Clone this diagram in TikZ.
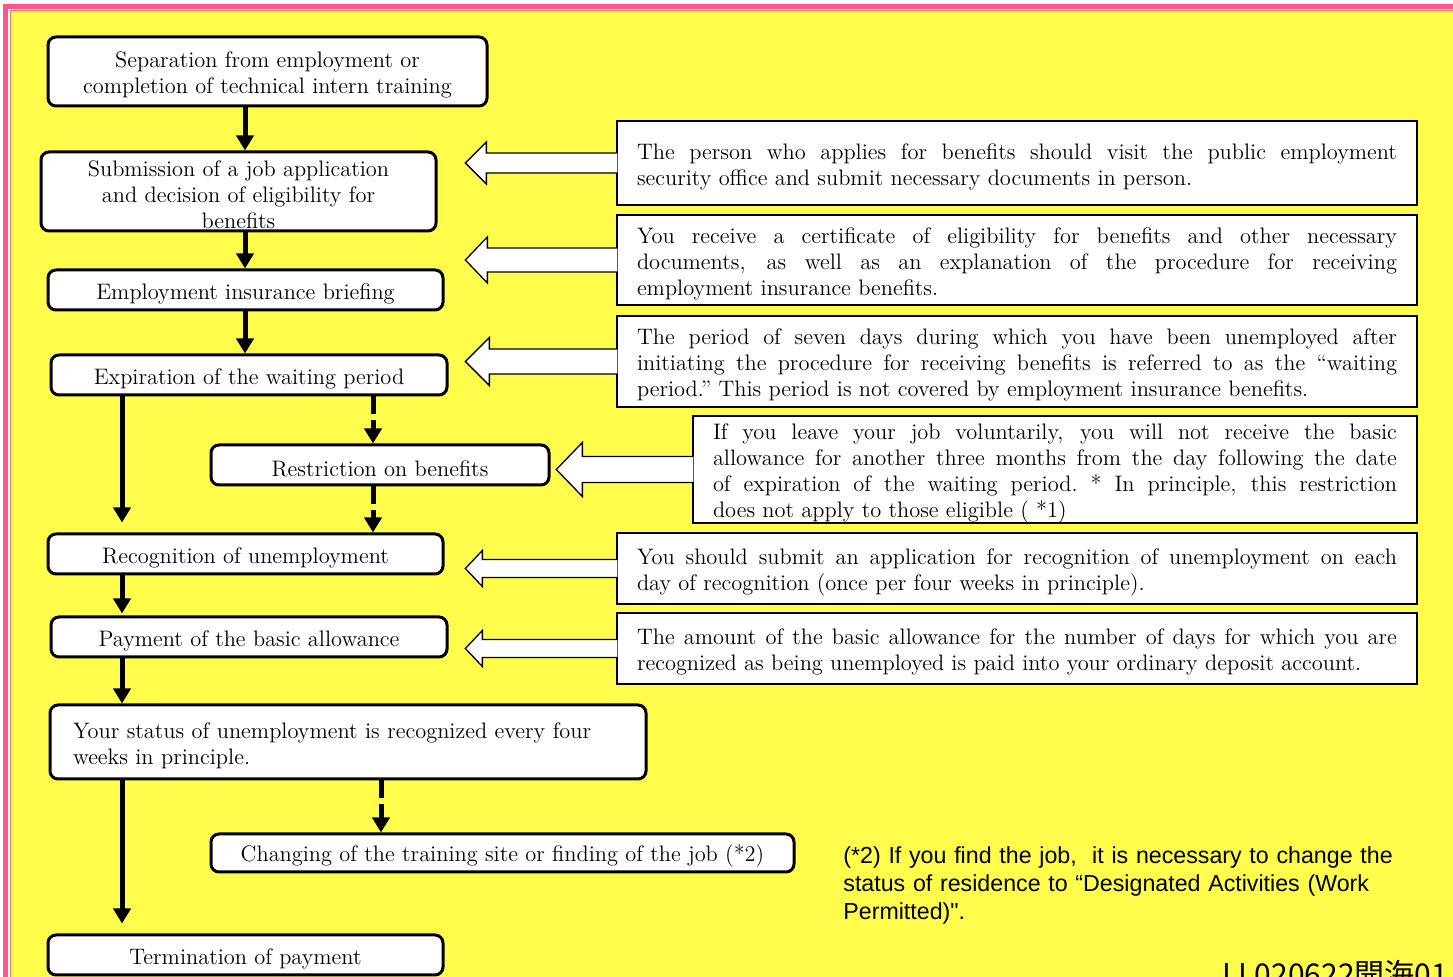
\documentclass[tikz,border=0pt]{standalone}
\usepackage{fontspec}
\newfontfamily\sansf{Liberation Sans}
\newfontfamily\cjkf{Noto Sans CJK JP}
\usetikzlibrary{arrows.meta,calc}
\definecolor{bgyel}{RGB}{255,252,75}
\definecolor{pinkb}{RGB}{255,85,140}
\definecolor{innerl}{RGB}{255,120,110}
\newcommand\tstrut{\rule{0pt}{11.6pt}}
\newcommand\hollowarr[5]{%
  \path[hollow] ($(#1.west)+(1,-#4)$) -- ++(-#2-1,0) -- ++(0,#4-#5) -- ++(-#3,#5) -- ++(#3,#5) -- ++(0,#4-#5) -- ++(#2+1,0);}
\begin{document}
\begin{tikzpicture}[x=0.5pt,y=-0.5pt,
  serif/.style={font=\fontsize{11.2}{13}\selectfont},
  lbox/.style={draw=black, line width=1.5pt, rounded corners=4pt, fill=white, inner xsep=4pt, inner ysep=0pt, align=center, serif},
  rbox/.style={draw=black, line width=0.65pt, fill=white, inner xsep=10pt, inner ysep=0pt, text width=380pt, align=justify, serif},
  hollow/.style={draw=black, line width=0.65pt, fill=white, line join=miter},
  thk/.style={line width=2.5pt, -{Triangle[width=8.5pt,length=7.5pt]}},
  dsh/.style={thk, dash pattern=on 9pt off 3pt}]
\useasboundingbox (0,0) rectangle (1453,977);
\clip (0,0) rectangle (1453,977);
% background
\fill[white] (0,0) rectangle (1453,977);
\fill[bgyel] (11,11) rectangle (1500,1100);
\draw[pinkb, line width=2.2pt] (5.7,6.7) rectangle (1500,1100);
\draw[innerl, line width=0.6pt] (10.3,10.8) rectangle (1500,1100);

% left flow boxes
\node[lbox, minimum width=219.5pt, minimum height=34.5pt] (b1) at (267.5,71.5) {\tstrut Separation from employment or\\completion of technical intern training};
\node[lbox, minimum width=197.5pt, minimum height=39.5pt] (b2) at (238.5,191.5) {\tstrut Submission of a job application\\and decision of eligibility for\\benefits};
\node[lbox, minimum width=197.5pt, minimum height=20pt] (b3) at (245.5,290) {\tstrut Employment insurance briefing};
\node[lbox, minimum width=198pt, minimum height=20pt] (b4) at (249,375) {\tstrut Expiration of the waiting period};
\node[lbox, minimum width=169pt, minimum height=20pt] (b5) at (380,465) {\tstrut Restriction on benefits};
\node[lbox, minimum width=197.5pt, minimum height=20pt] (b6) at (245.5,554) {\tstrut Recognition of unemployment};
\node[lbox, minimum width=198pt, minimum height=20pt] (b7) at (249,637) {\tstrut Payment of the basic allowance};
\node[lbox, inner xsep=11.5pt, text width=275pt, align=left, minimum height=37pt] (b8) at (348,742) {\tstrut Your status of unemployment is recognized every four\\weeks in principle.};
\node[lbox, minimum width=291.5pt, minimum height=19pt] (b9) at (502.5,853) {\tstrut Changing of the training site or finding of the job (*2)};
\node[lbox, minimum width=197.5pt, minimum height=20pt] (b10) at (245.5,955) {\tstrut Termination of payment};

% right explanation boxes
\node[rbox, minimum height=42pt] (r1) at (1017,163) {\tstrut The person who applies for benefits should visit the public employment\linebreak security office and submit necessary documents in person.};
\node[rbox, minimum height=45pt] (r2) at (1017,260) {\tstrut You receive a certificate of eligibility for benefits and other necessary\linebreak documents, as well as an explanation of the procedure for receiving\linebreak employment insurance benefits.};
\node[rbox, minimum height=45.5pt] (r3) at (1017,361.5) {\tstrut The period of seven days during which you have been unemployed after\linebreak initiating the procedure for receiving benefits is referred to as the “waiting\linebreak period.”\ This period is not covered by employment insurance benefits.};
\node[rbox, text width=342pt, minimum height=53.5pt] (r4) at (1055,469.5) {\tstrut If you leave your job voluntarily, you will not receive the basic\linebreak allowance for another three months from the day following the date\linebreak of expiration of the waiting period.\ * In principle, this restriction\linebreak does not apply to those eligible ( *1)};
\node[rbox, minimum height=35.5pt] (r5) at (1017,568.5) {\tstrut You should submit an application for recognition of unemployment on each\linebreak day of recognition (once per four weeks in principle).};
\node[rbox, minimum height=35.5pt] (r6) at (1017,648.5) {\tstrut The amount of the basic allowance for the number of days for which you are\linebreak recognized as being unemployed is paid into your ordinary deposit account.};

% hollow arrows
\hollowarr{r1}{130}{21}{10}{21}
\hollowarr{r2}{129}{22}{12}{23}
\hollowarr{r3}{127}{24}{12.5}{24}
\hollowarr{r4}{110}{26}{13}{27}
\hollowarr{r5}{134}{17}{9}{18}
\hollowarr{r6}{134}{17}{9}{18}

% flow arrows
\coordinate (xa) at (245,0);
\coordinate (xb) at (122,0);
\coordinate (xc) at (373,0);
\coordinate (xd) at (381,0);
\draw[thk] (b1.south -| xa) -- (b2.north -| xa);
\draw[thk] (b2.south -| xa) -- (b3.north -| xa);
\draw[thk] (b3.south -| xa) -- (b4.north -| xa);
\draw[thk, shorten >=5pt] (b4.south -| xb) -- (b6.north -| xb);
\draw[dsh] (b4.south -| xc) -- (b5.north -| xc);
\draw[dsh] (b5.south -| xc) -- (b6.north -| xc);
\draw[thk, shorten >=1pt] (b6.south -| xb) -- (b7.north -| xb);
\draw[thk] (b7.south -| xb) -- (b8.north -| xb);
\draw[thk, shorten >=5pt] (b8.south -| xb) -- (b10.north -| xb);
\draw[dsh] (b8.south -| xd) -- (b9.north -| xd);

% footnote
\node[anchor=north west, inner sep=0pt, text width=300pt, align=left, font=\sansf\fontsize{11.6}{14}\selectfont] (fn) at (843,846) {(*2) If you find the job,\ \ it is necessary to change the\\status of residence to “Designated Activities (Work\\Permitted)".};

% reference code (cut at bottom)
\node[anchor=base west, inner sep=0pt, font=\cjkf\fontsize{15}{15}\selectfont] (code) at (1222,986) {LL020622開海01};
\end{tikzpicture}
\end{document}
